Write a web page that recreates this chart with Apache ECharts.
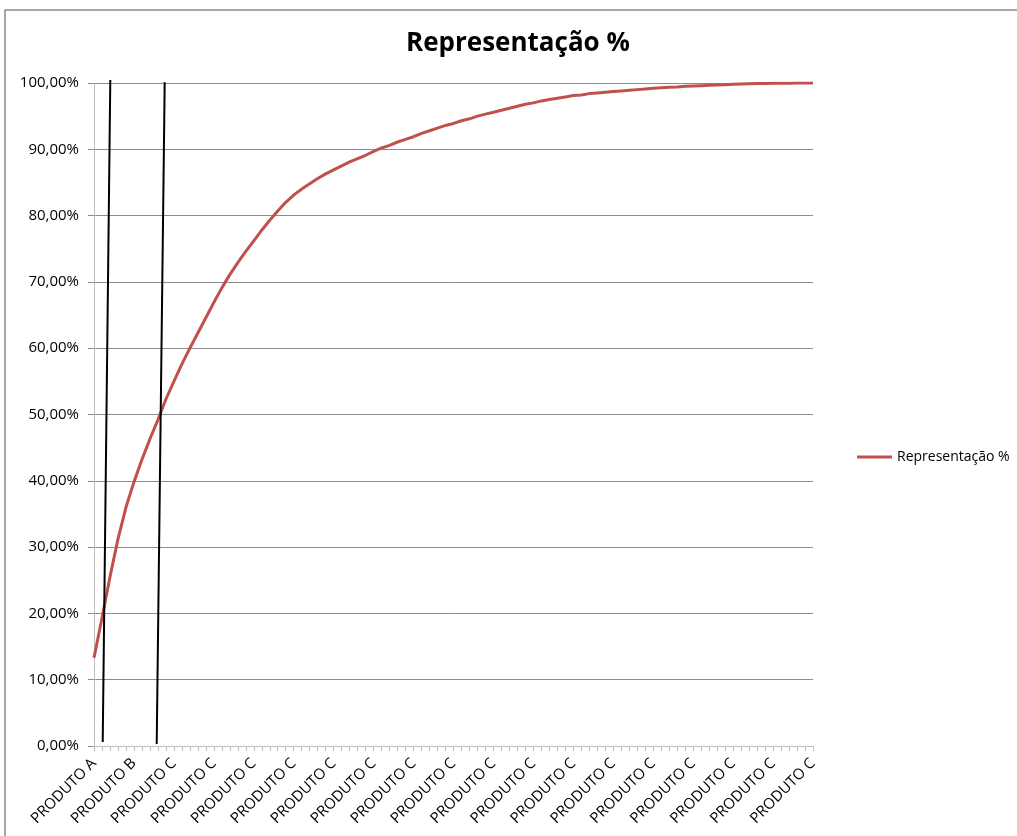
<!DOCTYPE html>
<html>
<head>
<meta charset="utf-8">
<script src="https://cdn.jsdelivr.net/npm/echarts@6/dist/echarts.min.js"></script>
<style>
  html, body { margin: 0; padding: 0; background: #fff; }
  #chart { width: 1017px; height: 836px; }
</style>
</head>
<body>
<div id="chart"></div>
<script>
// Product categories (ABC classes), in ranking order
const categories = [
  'PRODUTO A', 'PRODUTO A',
  'PRODUTO B', 'PRODUTO B', 'PRODUTO B', 'PRODUTO B', 'PRODUTO B', 'PRODUTO B', 'PRODUTO B',
  'PRODUTO C', 'PRODUTO C', 'PRODUTO C', 'PRODUTO C', 'PRODUTO C', 'PRODUTO C', 'PRODUTO C', 'PRODUTO C', 'PRODUTO C', 'PRODUTO C',
  'PRODUTO C', 'PRODUTO C', 'PRODUTO C', 'PRODUTO C', 'PRODUTO C', 'PRODUTO C', 'PRODUTO C', 'PRODUTO C', 'PRODUTO C', 'PRODUTO C',
  'PRODUTO C', 'PRODUTO C', 'PRODUTO C', 'PRODUTO C', 'PRODUTO C', 'PRODUTO C', 'PRODUTO C', 'PRODUTO C', 'PRODUTO C', 'PRODUTO C',
  'PRODUTO C', 'PRODUTO C', 'PRODUTO C', 'PRODUTO C', 'PRODUTO C', 'PRODUTO C', 'PRODUTO C', 'PRODUTO C', 'PRODUTO C', 'PRODUTO C',
  'PRODUTO C', 'PRODUTO C', 'PRODUTO C', 'PRODUTO C', 'PRODUTO C', 'PRODUTO C', 'PRODUTO C', 'PRODUTO C', 'PRODUTO C', 'PRODUTO C',
  'PRODUTO C', 'PRODUTO C', 'PRODUTO C', 'PRODUTO C', 'PRODUTO C', 'PRODUTO C', 'PRODUTO C', 'PRODUTO C', 'PRODUTO C', 'PRODUTO C',
  'PRODUTO C', 'PRODUTO C', 'PRODUTO C', 'PRODUTO C', 'PRODUTO C', 'PRODUTO C', 'PRODUTO C', 'PRODUTO C', 'PRODUTO C', 'PRODUTO C',
  'PRODUTO C', 'PRODUTO C', 'PRODUTO C', 'PRODUTO C', 'PRODUTO C', 'PRODUTO C', 'PRODUTO C', 'PRODUTO C', 'PRODUTO C', 'PRODUTO C',
  'PRODUTO C', 'PRODUTO C'
];

// Cumulative share (%) per product
const representacao = [
  13.3, 19.3, 25.5, 31.2, 36.0, 39.8, 43.2, 46.3, 49.2, 52.3,
  55.0, 57.6, 60.0, 62.3, 64.6, 66.9, 69.1, 71.1, 72.9, 74.6,
  76.2, 77.8, 79.3, 80.7, 82.0, 83.1, 84.0, 84.8, 85.6, 86.3,
  86.9, 87.5, 88.1, 88.6, 89.1, 89.7, 90.2, 90.6, 91.1, 91.5,
  91.9, 92.4, 92.8, 93.2, 93.6, 93.9, 94.3, 94.6, 95.0, 95.3,
  95.6, 95.9, 96.2, 96.5, 96.8, 97.0, 97.3, 97.5, 97.7, 97.9,
  98.1, 98.2, 98.4, 98.5, 98.6, 98.7, 98.8, 98.9, 99.0, 99.1,
  99.2, 99.3, 99.35, 99.4, 99.5, 99.55, 99.6, 99.65, 99.7, 99.75,
  99.8, 99.85, 99.9, 99.92, 99.94, 99.96, 99.97, 99.98, 99.99, 100.0,
  100.0
];

// Hand-drawn class dividers: [product position, %] at bottom and top
const dividerAB = [[1.09, 0.6], [2.04, 100.45]];
const dividerBC = [[7.85, 0.3], [8.85, 100.1]];

const yTicks = { min: 0, max: 100, interval: 10 };
const seriesName = 'Representação %';

const fmtPct = v => v.toFixed(2).replace('.', ',') + '%';

const chart = echarts.init(document.getElementById('chart'), null, { renderer: 'canvas' });

chart.setOption({
  backgroundColor: '#ffffff',
  animation: false,
  textStyle: { fontFamily: 'Open Sans' },
  graphic: [{
    type: 'rect',
    shape: { x: 5, y: 10, width: 1030, height: 850 },
    style: { fill: 'none', stroke: '#8a8a8a', lineWidth: 1.5 },
    silent: true,
    z: -1
  }],
  title: {
    text: seriesName,
    left: 401,
    top: 26,
    textStyle: { fontSize: 26, fontWeight: 'bold', color: '#000', fontFamily: 'Open Sans' }
  },
  legend: {
    data: [{ name: seriesName, icon: 'rect' }],
    orient: 'vertical',
    left: 852,
    top: 445,
    itemWidth: 35,
    itemHeight: 3,
    textStyle: { fontSize: 14, color: '#000', fontFamily: 'Open Sans' }
  },
  grid: { left: 94, right: 204, top: 83, bottom: 90, containLabel: false },
  xAxis: [{
    type: 'category',
    data: categories,
    boundaryGap: false,
    axisLine: { lineStyle: { color: '#bfbfbf', width: 1 } },
    axisTick: { show: true, interval: 0, length: 5, lineStyle: { color: '#bfbfbf' } },
    axisLabel: {
      interval: 4,
      rotate: 45,
      margin: 15,
      fontSize: 15,
      color: '#000',
      fontFamily: 'Open Sans'
    },
    splitLine: { show: false }
  }, {
    type: 'value',
    min: 0,
    max: categories.length - 1,
    show: false
  }],
  yAxis: {
    type: 'value',
    min: yTicks.min,
    max: yTicks.max,
    interval: yTicks.interval,
    axisLine: { show: true, lineStyle: { color: '#bfbfbf' } },
    axisTick: { show: true, length: 6, inside: false, lineStyle: { color: '#8c8c8c' } },
    axisLabel: { formatter: fmtPct, fontSize: 15, color: '#000', margin: 15, fontFamily: 'Open Sans' },
    splitLine: { show: true, lineStyle: { color: '#8c8c8c', width: 1 } }
  },
  series: [{
    name: seriesName,
    type: 'line',
    data: representacao,
    showSymbol: false,
    symbol: 'none',
    smooth: false,
    lineStyle: { color: '#C0504D', width: 3 },
    itemStyle: { color: '#C0504D' },
    z: 3
  }, {
    name: 'divisorAB',
    type: 'line',
    xAxisIndex: 1,
    data: dividerAB,
    symbol: 'none',
    clip: false,
    silent: true,
    lineStyle: { color: '#000', width: 2 },
    z: 4
  }, {
    name: 'divisorBC',
    type: 'line',
    xAxisIndex: 1,
    data: dividerBC,
    symbol: 'none',
    clip: false,
    silent: true,
    lineStyle: { color: '#000', width: 2 },
    z: 4
  }]
});
</script>
</body>
</html>
